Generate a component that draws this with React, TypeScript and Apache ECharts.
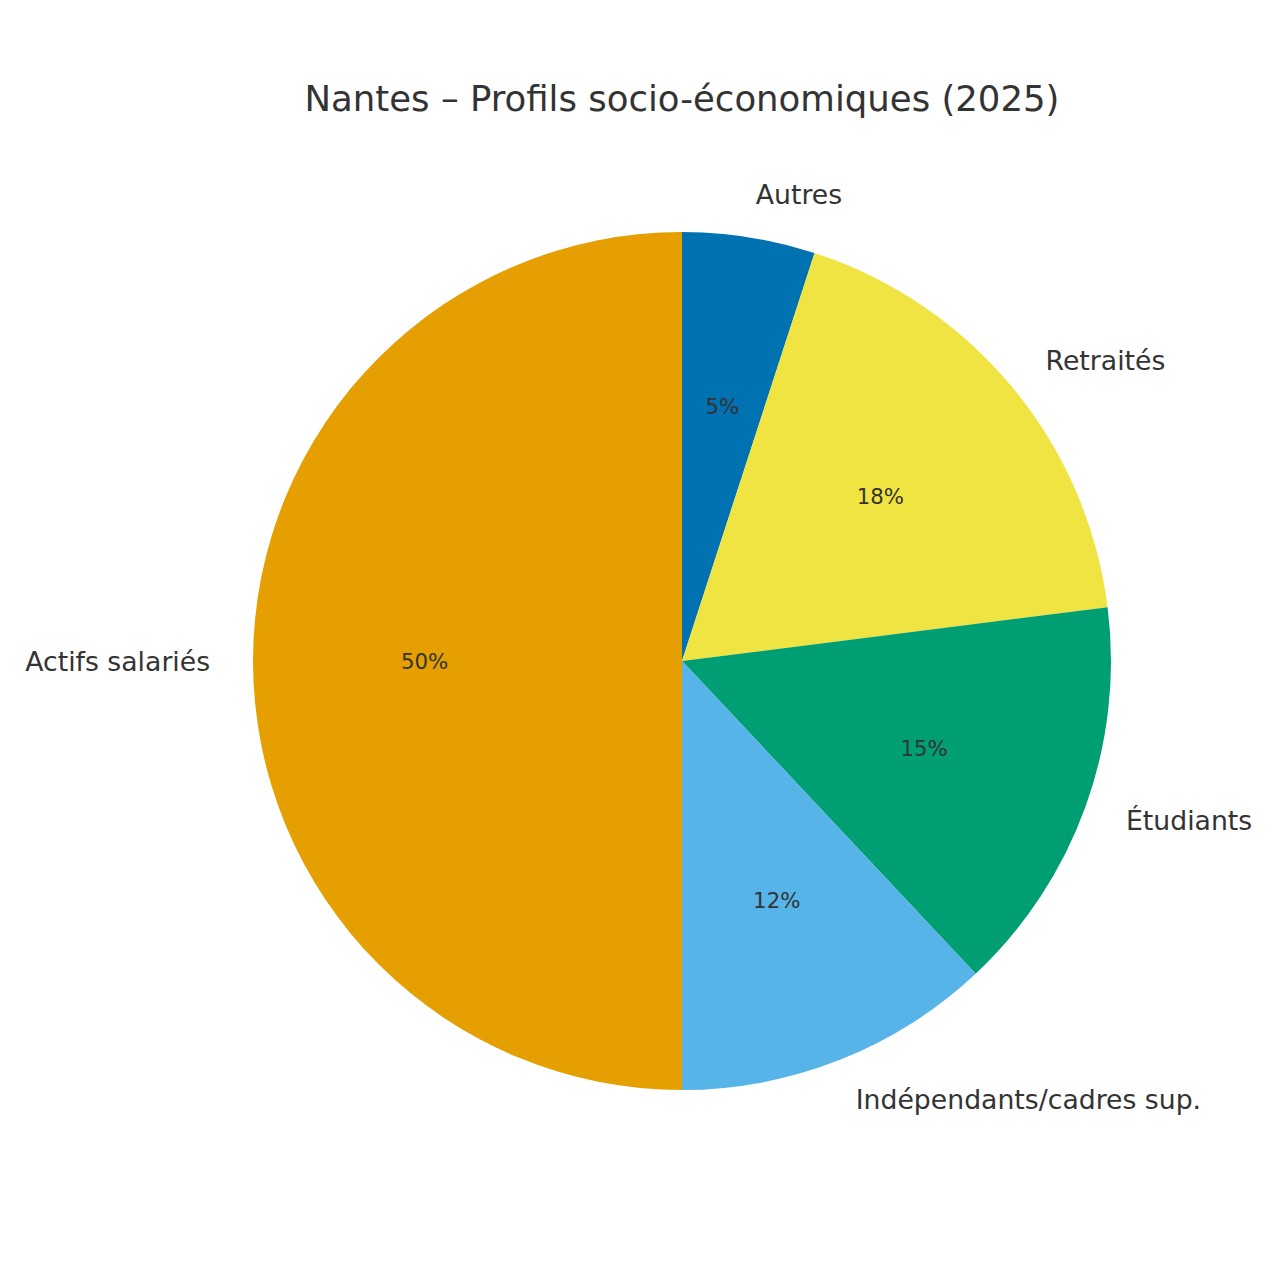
import React, { useEffect, useRef } from 'react';
import * as echarts from 'echarts';

const categories = ['Autres', 'Retraités', 'Étudiants', 'Indépendants/cadres sup.', 'Actifs salariés'];
const shares = [5, 18, 15, 12, 50];
const colors = ['#0072B2', '#F0E442', '#009E73', '#56B4E9', '#E69F00'];

const FONT = "'DejaVu Sans', sans-serif";
const R = 429;

export default function App() {
  const chartRef = useRef<HTMLDivElement>(null);

  useEffect(() => {
    document.body.style.margin = '0';
    if (!chartRef.current) return;

    const chart = echarts.init(chartRef.current, null, { renderer: 'svg' });

    const data = categories.map((name, i) => ({
      name,
      value: shares[i],
      itemStyle: { color: colors[i] }
    }));

    const option = {
      animation: false,
      backgroundColor: '#ffffff',
      title: {
        text: 'Nantes – Profils socio-économiques (2025)',
        left: 682,
        top: 80,
        padding: 0,
        textAlign: 'center',
        textStyle: {
          fontFamily: FONT,
          fontSize: 35.5,
          fontWeight: 'normal',
          color: '#333333'
        }
      },
      series: [
        {
          type: 'pie',
          center: [682, 661],
          radius: R,
          startAngle: 90,
          clockwise: true,
          silent: true,
          avoidLabelOverlap: false,
          itemStyle: { borderWidth: 0 },
          label: {
            show: true,
            position: 'outside',
            formatter: '{b}',
            fontFamily: FONT,
            fontSize: 26.7,
            color: '#333333',
            distanceToLabelLine: 0
          },
          labelLine: { show: false, length: R * 0.1, length2: 0 },
          data
        },
        {
          type: 'pie',
          center: [682, 661],
          radius: [2 * (R * 0.6 - 3) - R, R],
          startAngle: 90,
          clockwise: true,
          silent: true,
          avoidLabelOverlap: false,
          itemStyle: { color: 'transparent', borderWidth: 0 },
          label: {
            show: true,
            position: 'inside',
            formatter: '{c}%',
            fontFamily: FONT,
            fontSize: 21.3,
            color: '#333333'
          },
          labelLine: { show: false },
          data: categories.map((name, i) => ({
            name,
            value: shares[i],
            itemStyle: { color: 'transparent' }
          }))
        }
      ]
    };

    chart.setOption(option);

    return () => {
      chart.dispose();
    };
  }, []);

  return <div ref={chartRef} style={{ width: 1280, height: 1280 }} />;
}
